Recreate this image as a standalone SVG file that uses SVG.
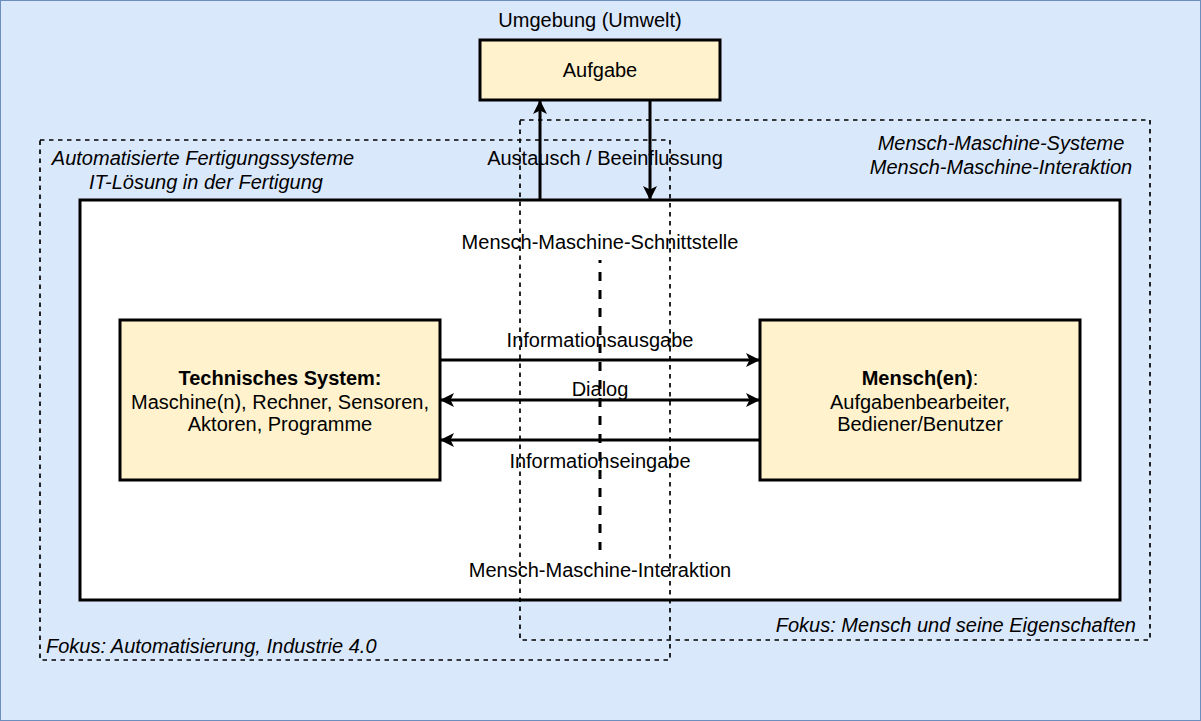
<svg xmlns="http://www.w3.org/2000/svg" width="1201" height="721" viewBox="0 0 1201 721">
<defs>
<style>
text{font-family:"Liberation Sans",Arial,sans-serif;font-size:20px;fill:#000}
.c{text-anchor:middle}
.i{font-style:italic}
.box{fill:#fff2cc;stroke:#000;stroke-width:3}
.dash{fill:none;stroke:#000;stroke-width:1.7;stroke-dasharray:4.5 4.5}
.arr{fill:none;stroke:#000;stroke-width:3}
</style>
<marker id="ah" viewBox="0 0 14 14" refX="13" refY="7" markerWidth="14" markerHeight="14" markerUnits="userSpaceOnUse" orient="auto-start-reverse">
<path d="M0,0 L14,7 L0,14 L3.5,7 Z" fill="#000"/>
</marker>
</defs>
<rect id="bg" x="0.5" y="0.5" width="1200" height="720" fill="#dae8fc" stroke="#6c8ebf"/>
<text class="c" x="590" y="27">Umgebung (Umwelt)</text>
<g id="main"><rect x="80" y="200" width="1040" height="400" fill="#fff" stroke="#000" stroke-width="3"/></g>
<g id="aufgabe"><rect class="box" x="480" y="40" width="240" height="60"/><text class="c" x="600" y="77">Aufgabe</text></g>
<g id="auto-box">
<rect class="dash" x="40" y="140" width="630" height="520"/>
<text class="c i" x="203" y="165">Automatisierte Fertigungssysteme</text>
<text class="c i" x="206" y="189">IT-Lösung in der Fertigung</text>
<text class="i" x="46" y="653">Fokus: Automatisierung, Industrie 4.0</text>
</g>
<g id="mms-box">
<rect class="dash" x="520" y="120" width="630" height="520"/>
<text class="c i" x="1001" y="150">Mensch-Maschine-Systeme</text>
<text class="c i" x="1001" y="174">Mensch-Maschine-Interaktion</text>
<text class="i" x="1136" y="632" text-anchor="end">Fokus: Mensch und seine Eigenschaften</text>
</g>
<g id="tech"><rect class="box" x="120" y="320" width="320" height="160"/>
<text class="c" x="280" y="385" font-weight="bold">Technisches System:</text>
<text class="c" x="280" y="409">Maschine(n), Rechner, Sensoren,</text>
<text class="c" x="280" y="431">Aktoren, Programme</text></g>
<g id="mensch"><rect class="box" x="760" y="320" width="320" height="160"/>
<text class="c" x="920" y="385"><tspan font-weight="bold">Mensch(en)</tspan>:</text>
<text class="c" x="920" y="409">Aufgabenbearbeiter,</text>
<text class="c" x="920" y="431">Bediener/Benutzer</text></g>
<g id="connectors">
<line class="arr" x1="540" y1="200" x2="540" y2="101" marker-end="url(#ah)"/>
<line class="arr" x1="650" y1="100" x2="650" y2="199" marker-end="url(#ah)"/>
<line class="arr" x1="440" y1="360" x2="759" y2="360" marker-end="url(#ah)"/>
<line class="arr" x1="441" y1="400" x2="759" y2="400" marker-start="url(#ah)" marker-end="url(#ah)"/>
<line class="arr" x1="760" y1="440" x2="441" y2="440" marker-end="url(#ah)"/>
<line x1="600" y1="260" x2="600" y2="550" stroke="#000" stroke-width="3" stroke-dasharray="9 9" stroke-dashoffset="6"/>
</g>
<g id="labels">
<text class="c" x="605" y="165">Austausch / Beeinflussung</text>
<text class="c" x="600" y="249">Mensch-Maschine-Schnittstelle</text>
<text class="c" x="600" y="347">Informationsausgabe</text>
<text class="c" x="600" y="396">Dialog</text>
<text class="c" x="600" y="468">Informationseingabe</text>
<text class="c" x="600" y="577">Mensch-Maschine-Interaktion</text>
</g>
</svg>
